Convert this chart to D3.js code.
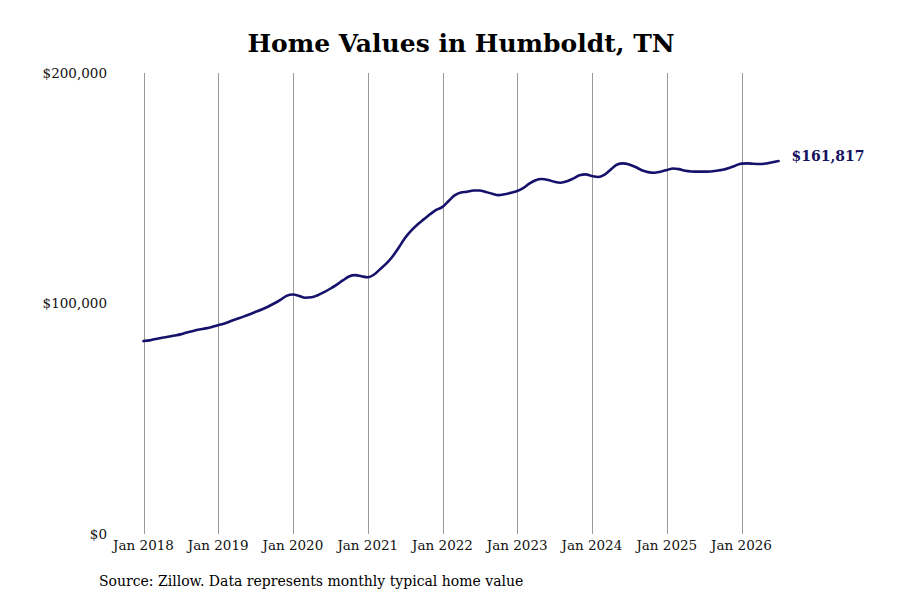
<!DOCTYPE html>
<html>
<head>
<meta charset="utf-8">
<script src="https://cdn.jsdelivr.net/npm/d3@7"></script>
<style>
  html, body { margin: 0; padding: 0; background: #fff; }
  svg { display: block; font-family: "DejaVu Serif", serif; }
</style>
</head>
<body>
<svg id="chart" width="900" height="600"></svg>
<script>
const title = "Home Values in Humboldt, TN";
const source = "Source: Zillow. Data represents monthly typical home value";
const startMonth = "2018-01";
// Monthly typical home value (thousands of dollars), Jan 2018 – Jul 2026
const values = [
  83.7, 84.0, 84.6, 85.1, 85.6, 86.1, 86.6, 87.4, 88.1, 88.7, 89.2, 89.8,
  90.6, 91.3, 92.3, 93.3, 94.2, 95.2, 96.3, 97.4, 98.6, 100.0, 101.6, 103.3,
  103.9, 103.3, 102.5, 102.7, 103.6, 104.9, 106.4, 108.1, 110.0, 111.7, 112.3, 111.8,
  111.4, 112.6, 114.8, 117.3, 120.3, 124.2, 128.3, 131.6, 134.3, 136.5, 138.7, 140.6,
  141.9, 144.6, 146.9, 148.2, 148.5, 149.0, 149.0, 148.4, 147.6, 147.0, 147.4, 148.0,
  148.8, 150.2, 152.0, 153.5, 154.0, 153.6, 152.8, 152.4, 153.0, 154.2, 155.6, 156.0,
  155.3, 154.9, 155.8, 158.0, 160.2, 160.8, 160.3, 159.2, 157.8, 157.0, 156.7, 157.2,
  157.9, 158.6, 158.3, 157.6, 157.3, 157.2, 157.2, 157.3, 157.6, 158.0, 158.8, 159.8,
  160.7, 160.8, 160.6, 160.5, 160.7, 161.3, 161.817
];
const xTickYears = [2018, 2019, 2020, 2021, 2022, 2023, 2024, 2025, 2026];
const yTicks = [0, 100000, 200000];

const parse = d3.timeParse("%Y-%m");
const t0 = parse(startMonth);
const data = values.map((v, i) => ({ date: d3.timeMonth.offset(t0, i), value: v * 1000 }));

const svg = d3.select("#chart");

const x = d3.scaleTime()
  .domain([new Date(2018, 0, 1), new Date(2026, 0, 1)])
  .range([143.5, 741.5]);
const y = d3.scaleLinear().domain([0, 200000]).range([534, 73]);

// vertical gridlines
svg.append("g").selectAll("line")
  .data(xTickYears)
  .join("line")
  .attr("x1", d => Math.round(x(new Date(d, 0, 1))) + 0.5)
  .attr("x2", d => Math.round(x(new Date(d, 0, 1))) + 0.5)
  .attr("y1", y(200000))
  .attr("y2", y(0))
  .attr("stroke", "#9a9a9a")
  .attr("stroke-width", 1);

// x labels
svg.append("g").selectAll("text")
  .data(xTickYears)
  .join("text")
  .attr("x", d => x(new Date(d, 0, 1)))
  .attr("y", 550)
  .attr("text-anchor", "middle")
  .attr("font-size", 13.5)
  .attr("fill", "#111")
  .text(d => d3.timeFormat("%b %Y")(new Date(d, 0, 1)));

// y labels
const fmt = d3.format("$,");
svg.append("g").selectAll("text")
  .data(yTicks)
  .join("text")
  .attr("x", 107)
  .attr("y", d => y(d) + 4.5)
  .attr("text-anchor", "end")
  .attr("font-size", 13.5)
  .attr("fill", "#111")
  .text(d => fmt(d));

// line
const line = d3.line()
  .x(d => x(d.date))
  .y(d => y(d.value))
  .curve(d3.curveMonotoneX);

svg.append("path")
  .datum(data)
  .attr("fill", "none")
  .attr("stroke", "#16126b")
  .attr("stroke-width", 2.6)
  .attr("stroke-linejoin", "round")
  .attr("stroke-linecap", "round")
  .attr("d", line);

// end label
const last = data[data.length - 1];
svg.append("text")
  .attr("x", x(last.date) + 13)
  .attr("y", y(last.value) + 0)
  .attr("font-size", 14)
  .attr("font-weight", "bold")
  .attr("fill", "#16125e")
  .text(fmt(Math.round(last.value)));

// title
svg.append("text")
  .attr("x", 461)
  .attr("y", 52)
  .attr("text-anchor", "middle")
  .attr("font-size", 25)
  .attr("font-weight", "bold")
  .attr("fill", "#000")
  .text(title);

// source
svg.append("text")
  .attr("x", 99)
  .attr("y", 586)
  .attr("font-size", 14)
  .attr("fill", "#000")
  .text(source);
</script>
</body>
</html>
